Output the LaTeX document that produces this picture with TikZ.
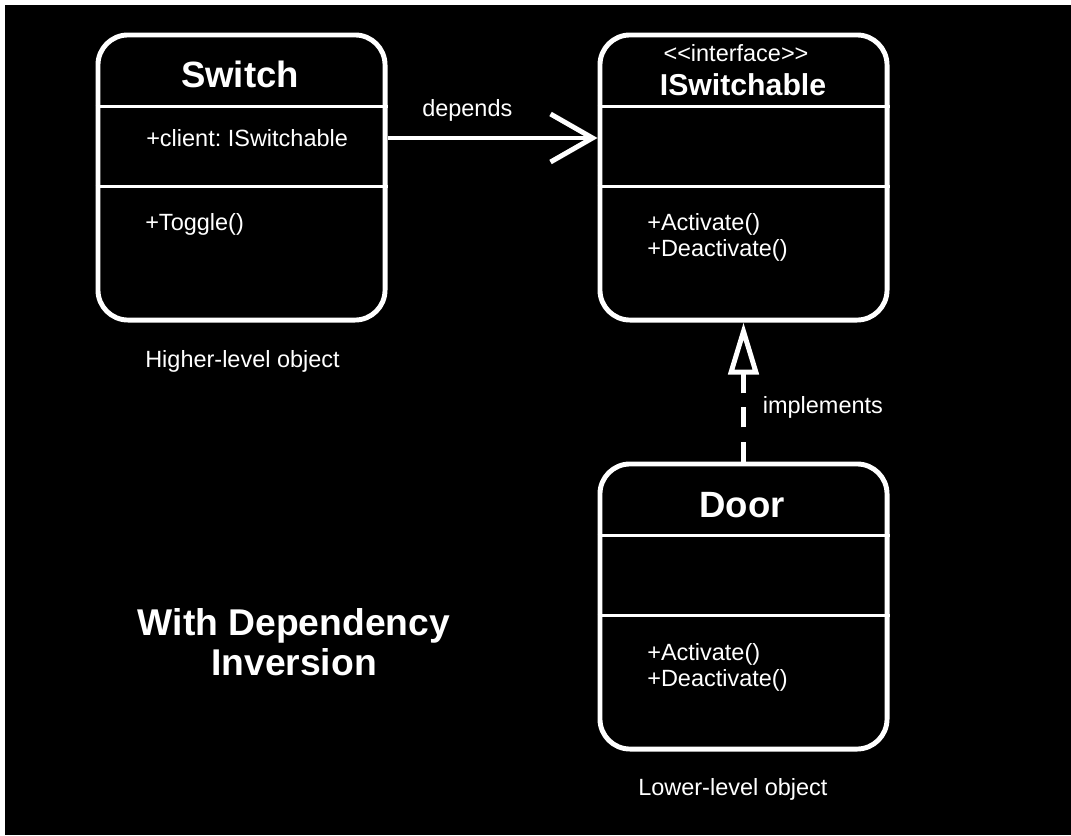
\documentclass[tikz,border=0pt]{standalone}
\usepackage{fontspec}
\setmainfont{Liberation Sans}
\usetikzlibrary{calc}
\usetikzlibrary{arrows.meta}

\begin{document}
\frenchspacing
\begin{tikzpicture}[
  x=0.025cm, y=-0.025cm,
  line join=round,
  umlbox/.style={draw=white, line width=3.5pt, rounded corners=0.75cm,
    minimum width=7.175cm, minimum height=7.125cm, inner sep=0pt},
  divider/.style={white, line width=2.1pt},
  classname/.style={text=white, inner sep=0pt,
    font=\fontsize{26}{30}\selectfont\bfseries},
  member/.style={text=white, inner sep=0pt, anchor=west, align=left,
    font=\fontsize{16.7}{18.5}\selectfont},
  note/.style={text=white, inner sep=0pt,
    font=\fontsize{16.7}{19}\selectfont},
  link/.style={white, line width=3.5pt}
]

% background with thin white margin top/left
\fill [white] (0,0) rectangle (1071,835);
\fill [black] (5,5) rectangle (1071,835);
\useasboundingbox (0,0) rectangle (1071,835);

% class boxes
\node [umlbox] (switch) at (241.5,177.5) {};
\node [umlbox] (iswitch) at (743.5,177.5) {};
\node [umlbox] (door) at (743.5,606.5) {};

\foreach \n in {switch,iswitch,door}
  \foreach \d in {74,154}
    \draw [divider] ($(\n.north west)+(0,\d)$) -- ($(\n.north east)+(0,\d)$);

% Switch
\node [classname] (switch-name) at (240,74) {Switch};
\node [member] (switch-attr) at (146,138) {+client: ISwitchable};
\node [member] (switch-op) at (145,224) {+Toggle()};

% ISwitchable
\node [note] (iswitch-stereo) at (736,53) {<{}<interface>{}>};
\node [classname, font=\fontsize{21.5}{26}\selectfont\bfseries]
  (iswitch-name) at (743,85) {ISwitchable};
\node [member] (iswitch-op) at (647,237) {+Activate()\\+Deactivate()};

% Door
\node [classname] (door-name) at (742,505) {Door};
\node [member] (door-op) at (647,667) {+Activate()\\+Deactivate()};

% relations
\draw [link, -{Straight Barb[length=1.05cm, width=1.2cm]}]
  (switch.east |- switch-attr) -- (iswitch.west |- switch-attr)
  node [note, pos=0.38, above=10pt] (depends) {depends};
\draw [link, dash pattern=on 0.5cm off 0.35cm,
  -{Triangle[open, length=1.3cm, width=0.75cm, fill=black]}]
  (door.north) -- (iswitch.south)
  node [note, pos=0.39, right=12pt] (implements) {implements};

% captions
\node [note, anchor=west] (higher) at (145,361) {Higher-level object};
\node [note, anchor=west] (lower) at (638,789) {Lower-level object};
\node [classname, align=center, font=\fontsize{26.5}{28.5}\selectfont\bfseries]
  (caption) at (294,642) {With Dependency\\Inversion};

\end{tikzpicture}
\end{document}
